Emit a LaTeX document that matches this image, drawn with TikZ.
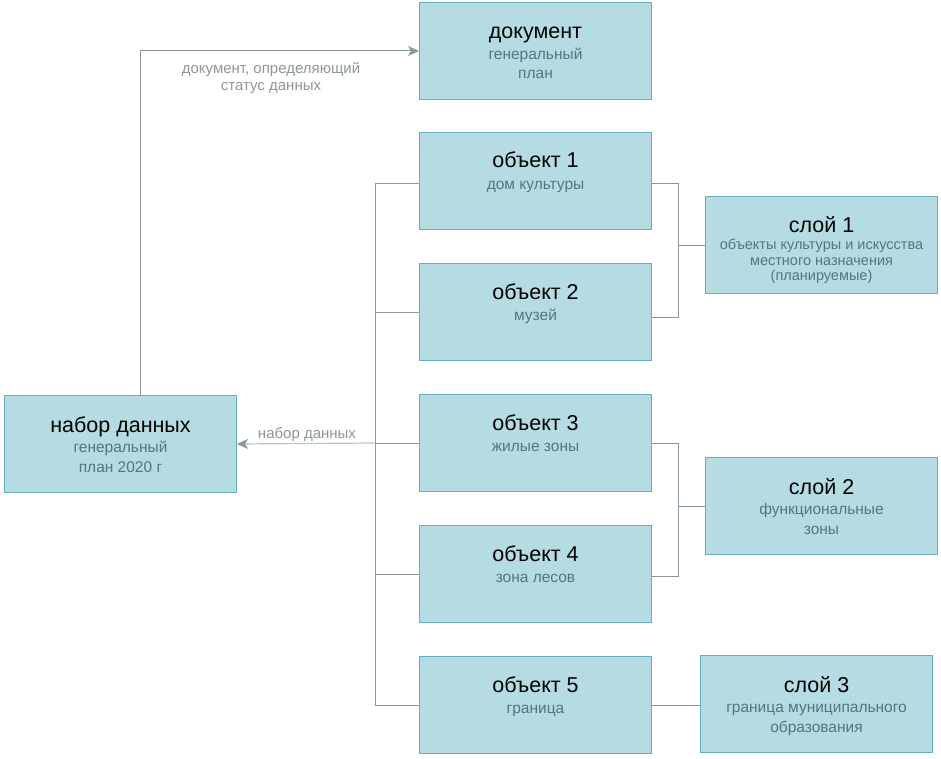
\documentclass[tikz,border=0pt]{standalone}
\usepackage{fontspec}
\setmainfont{Liberation Sans}
\usetikzlibrary{arrows.meta,calc}
\definecolor{boxf}{RGB}{181,220,226}
\definecolor{boxd}{RGB}{104,174,190}
\definecolor{subc}{RGB}{82,118,124}
\definecolor{lnc}{RGB}{138,152,155}
\definecolor{lnl}{RGB}{190,197,199}
\definecolor{lblc}{RGB}{140,150,153}
\tikzset{
  box/.style={draw=boxd, fill=boxf, line width=1pt, minimum width=232pt, minimum height=97pt, inner sep=0pt, anchor=north west},
  ttl/.style={anchor=base, inner sep=0pt, font=\fontsize{21.5}{24}\selectfont, text=black},
  sub/.style={anchor=base, inner sep=0pt, font=\fontsize{15.5}{17}\selectfont, text=subc},
  subs/.style={anchor=base, inner sep=0pt, font=\fontsize{14.5}{15}\selectfont, text=subc},
  lbl/.style={anchor=base, inner sep=0pt, font=\fontsize{15}{17}\selectfont, text=lblc},
  ln/.style={draw=lnc, line width=1pt},
  arr/.style={draw=lnc, line width=1pt, -{Stealth[length=11pt,width=10pt,inset=3pt]}},
}
\begin{document}
\begin{tikzpicture}[x=1pt,y=-1pt]
\useasboundingbox (0,0) rectangle (941,759);
% boxes
\node[box] (nd) at (4,395) {};
\node[box] (doc) at (419,2) {};
\node[box] (o1) at (419,132) {};
\node[box] (o2) at (419,263) {};
\node[box] (o3) at (419,394) {};
\node[box] (o4) at (419,525) {};
\node[box] (o5) at (419,656) {};
\node[box] (s1) at (705,196) {};
\node[box] (s2) at (705,457) {};
\node[box] (s3) at (700,655) {};
% texts
\node[ttl] (ndt) at ($(nd.north)+(0,37)$) {набор данных};
\node[sub] (nds1) at ($(nd.north)+(0,57.5)$) {генеральный};
\node[sub] (nds2) at ($(nd.north)+(0,77)$) {план 2020 г};
\node[ttl] (doct) at ($(doc.north)+(0,37)$) {документ};
\node[sub] (docs1) at ($(doc.north)+(0,57.5)$) {генеральный};
\node[sub] (docs2) at ($(doc.north)+(0,77)$) {план};
\node[ttl] (o1t) at ($(o1.north)+(0,36)$) {объект 1};
\node[sub] (o1s) at ($(o1.north)+(0,57.5)$) {дом культуры};
\node[ttl] (o2t) at ($(o2.north)+(0,36)$) {объект 2};
\node[sub] (o2s) at ($(o2.north)+(0,57.5)$) {музей};
\node[ttl] (o3t) at ($(o3.north)+(0,36)$) {объект 3};
\node[sub] (o3s) at ($(o3.north)+(0,57.5)$) {жилые зоны};
\node[ttl] (o4t) at ($(o4.north)+(0,36)$) {объект 4};
\node[sub] (o4s) at ($(o4.north)+(0,57.5)$) {зона лесов};
\node[ttl] (o5t) at ($(o5.north)+(0,36)$) {объект 5};
\node[sub] (o5s) at ($(o5.north)+(0,57.5)$) {граница};
\node[ttl] (s1t) at ($(s1.north)+(0,37)$) {слой 1};
\node[subs] (s1s1) at ($(s1.north)+(0,53.5)$) {объекты культуры и искусства};
\node[subs] (s1s2) at ($(s1.north)+(0,69)$) {местного назначения};
\node[subs] (s1s3) at ($(s1.north)+(0,84.5)$) {(планируемые)};
\node[ttl] (s2t) at ($(s2.north)+(0,37)$) {слой 2};
\node[sub] (s2s1) at ($(s2.north)+(0,57.5)$) {функциональные};
\node[sub] (s2s2) at ($(s2.north)+(0,77)$) {зоны};
\node[ttl] (s3t) at ($(s3.north)+(0,37)$) {слой 3};
\node[sub] (s3s1) at ($(s3.north)+(0,57.5)$) {граница муниципального};
\node[sub] (s3s2) at ($(s3.north)+(0,77)$) {образования};
% left trunk
\coordinate (ttop) at ($(o1.north west)+(-44,52)$);
\coordinate (tbot) at ($(o5.west)+(-44,0)$);
\draw[ln] (ttop) -- (tbot);
\draw[ln] (ttop) -- ($(o1.north west)+(0,52)$);
\draw[ln] (o2.west) -- ++(-44,0);
\draw[ln] (o3.west) -- ++(-44,0);
\draw[ln] (o4.west) -- ++(-44,0);
\draw[ln] (o5.west) -- (tbot);
\coordinate (tmid) at ($(o3.west)+(-44,0)$);
\draw[draw=lnl, line width=1.2pt, -{Stealth[length=11pt,width=10pt,inset=3pt,color=lnc]}] (tmid) -- (nd.east);
\node[lbl] (l1) at (307,438) {набор данных};
% document arrow
\coordinate (up) at ($(nd.north west)+(136,0)$);
\draw[arr] (up) -- (up |- doc.west) -- (doc.west);
\node[lbl] (l2a) at (271,74) {документ, определяющий};
\node[lbl] (l2b) at (271,91) {статус данных};
% right brackets
\coordinate (b1a) at ($(o1.north east)+(26,52)$);
\coordinate (b1b) at ($(o2.north east)+(26,54)$);
\draw[ln] ($(o1.north east)+(0,52)$) -- (b1a) -- (b1b) -- ($(o2.north east)+(0,54)$);
\draw[ln] (b1a |- s1.west) -- (s1.west);
\coordinate (b2a) at ($(o3.north east)+(26,49)$);
\coordinate (b2b) at ($(o4.north east)+(26,51)$);
\draw[ln] ($(o3.north east)+(0,49)$) -- (b2a) -- (b2b) -- ($(o4.north east)+(0,51)$);
\draw[ln] (b2a |- s2.west) -- (s2.west);
\draw[ln] (o5.east) -- (s3.west |- o5.east);
\end{tikzpicture}
\end{document}
